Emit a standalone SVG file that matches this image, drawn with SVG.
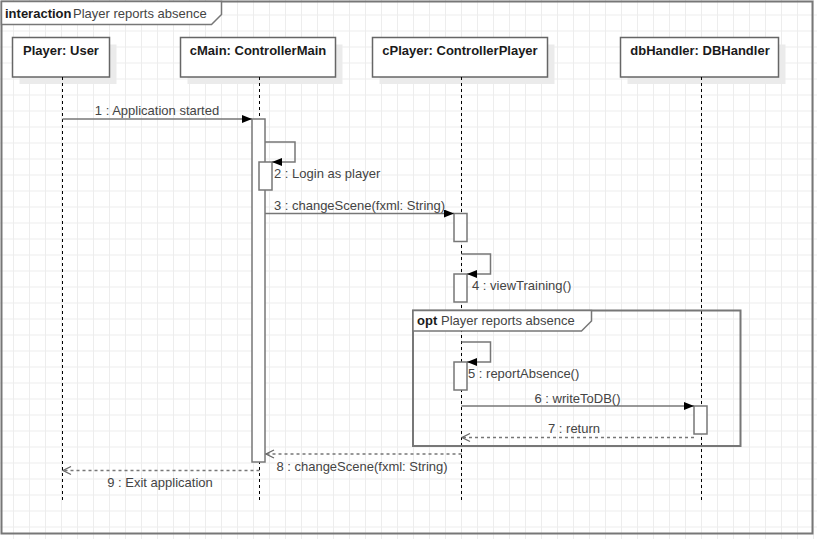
<svg xmlns="http://www.w3.org/2000/svg" width="817" height="539" viewBox="0 0 817 539">
  <defs>
    <pattern id="grid" patternUnits="userSpaceOnUse" x="13" y="14.5" width="16" height="16">
      <path d="M0 0.5H16M0.5 0V16" fill="none" stroke="#ededed" stroke-width="1"/>
    </pattern>
    <marker id="filled" viewBox="0 0 10 8" refX="10" refY="4" markerWidth="10" markerHeight="8" markerUnits="userSpaceOnUse" orient="auto">
      <path d="M0 0L10 4L0 8Z" fill="#000"/>
    </marker>
    <marker id="open" viewBox="0 0 10 10" refX="9" refY="5" markerWidth="10" markerHeight="10" markerUnits="userSpaceOnUse" orient="auto">
      <path d="M1 1L9 5L1 9" fill="none" stroke="#666" stroke-width="1.2"/>
    </marker>
  </defs>
  <style>
    .frame { fill: none; stroke: #777; stroke-width: 2; }
    .tab { fill: #fff; stroke: #777; stroke-width: 1.5; }
    .head { fill: #fff; stroke: #666; stroke-width: 1.5; }
    .shadow { fill: #ebebeb; }
    .life { stroke: #000; stroke-width: 1; stroke-dasharray: 3 3; fill: none; }
    .act { fill: #fff; stroke: #777; stroke-width: 1.5; }
    .msg { fill: none; stroke: #777; stroke-width: 1.5; }
    .ret { fill: none; stroke: #777; stroke-width: 1.5; stroke-dasharray: 3 3; }
    text { font-family: "Liberation Sans", Arial, sans-serif; font-size: 13px; }
    .title { font-weight: bold; fill: #1a1a1a; }
    .kw { font-weight: bold; fill: #1a1a1a; }
    .lbl { fill: #444; }
    .mid { text-anchor: middle; }
  </style>

  <rect width="817" height="539" fill="#fff"/>
  <rect width="817" height="539" fill="url(#grid)"/>

  <!-- interaction frame -->
  <g id="interaction">
    <rect class="frame" x="1.5" y="1.5" width="811" height="532"/>
    <path class="tab" d="M1.5 1.5H221.5V14.5L211.5 24.5H1.5Z"/>
    <text x="5" y="18" class="kw">interaction</text>
    <text x="73" y="18" class="lbl">Player reports absence</text>
  </g>

  <!-- lifelines -->
  <g id="player">
    <rect class="shadow" x="19.5" y="44.5" width="97" height="39.5"/>
    <rect class="head" x="12.5" y="37.5" width="97" height="39.5"/>
    <text x="61" y="55" class="title mid">Player: User</text>
    <line class="life" x1="62.5" y1="77" x2="62.5" y2="501"/>
  </g>
  <g id="cMain">
    <rect class="shadow" x="187.5" y="44.5" width="155" height="39.5"/>
    <rect class="head" x="180.5" y="37.5" width="155" height="39.5"/>
    <text x="258" y="55" class="title mid">cMain: ControllerMain</text>
    <line class="life" x1="259.5" y1="77" x2="259.5" y2="501"/>
  </g>
  <g id="cPlayer">
    <rect class="shadow" x="379.5" y="44.5" width="175" height="39.5"/>
    <rect class="head" x="372.5" y="37.5" width="175" height="39.5"/>
    <text x="460" y="55" class="title mid">cPlayer: ControllerPlayer</text>
    <line class="life" x1="461.5" y1="77" x2="461.5" y2="501"/>
  </g>
  <g id="dbHandler">
    <rect class="shadow" x="627.5" y="44.5" width="158" height="39.5"/>
    <rect class="head" x="620.5" y="37.5" width="158" height="39.5"/>
    <text x="700" y="55" class="title mid">dbHandler: DBHandler</text>
    <line class="life" x1="701.5" y1="77" x2="701.5" y2="501"/>
  </g>

  <!-- opt fragment -->
  <g id="opt">
    <rect class="frame" x="413" y="310.5" width="327.5" height="135.5" stroke-width="1.5"/>
    <path class="tab" d="M413 310.5H591.5V321L581.5 331H413Z"/>
    <text x="417" y="324.5" class="kw">opt</text>
    <text x="441" y="324.5" class="lbl">Player reports absence</text>
  </g>

  <!-- activations -->
  <g id="activations">
    <rect class="act" x="252" y="119" width="13" height="343"/>
    <rect class="act" x="259" y="162" width="13" height="28"/>
    <rect class="act" x="454" y="213.5" width="13" height="28"/>
    <rect class="act" x="454" y="274" width="13" height="28"/>
    <rect class="act" x="454" y="362" width="13" height="28"/>
    <rect class="act" x="694" y="406" width="13" height="28"/>
  </g>

  <!-- messages -->
  <g id="connectors">
    <line class="msg" x1="62.5" y1="119" x2="252" y2="119" marker-end="url(#filled)"/>
    <text x="157" y="114.5" class="lbl mid">1 : Application started</text>

    <path class="msg" d="M265 142H295V162H272" marker-end="url(#filled)"/>
    <text x="274" y="177.5" class="lbl">2 : Login as player</text>

    <line class="msg" x1="265" y1="213.5" x2="454" y2="213.5" marker-end="url(#filled)"/>
    <text x="359.5" y="210" class="lbl mid">3 : changeScene(fxml: String)</text>

    <path class="msg" d="M461.5 254H490.5V274H467" marker-end="url(#filled)"/>
    <text x="472" y="289.5" class="lbl">4 : viewTraining()</text>

    <path class="msg" d="M461.5 342H490.5V362H467" marker-end="url(#filled)"/>
    <text x="468" y="378" class="lbl">5 : reportAbsence()</text>

    <line class="msg" x1="461.5" y1="406" x2="694" y2="406" marker-end="url(#filled)"/>
    <text x="577.5" y="402.5" class="lbl mid">6 : writeToDB()</text>

    <line class="ret" x1="694" y1="437.5" x2="462" y2="437.5" marker-end="url(#open)"/>
    <text x="574" y="433" class="lbl mid">7 : return</text>

    <line class="ret" x1="461.5" y1="454" x2="266" y2="454" marker-end="url(#open)"/>
    <text x="362" y="470.5" class="lbl mid">8 : changeScene(fxml: String)</text>

    <line class="ret" x1="259.5" y1="470.5" x2="63" y2="470.5" marker-end="url(#open)"/>
    <text x="160" y="487" class="lbl mid">9 : Exit application</text>
  </g>
</svg>
